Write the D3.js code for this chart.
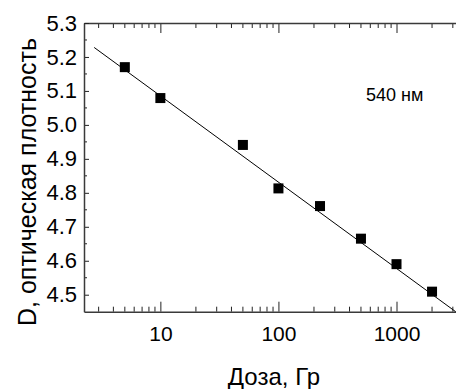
<!DOCTYPE html>
<html>
<head>
<meta charset="utf-8">
<script src="https://cdn.jsdelivr.net/npm/d3@7"></script>
<style>
  body { margin: 0; background: #fff; }
  text { font-family: "Liberation Sans", Arial, sans-serif; }
</style>
</head>
<body>
<svg width="456" height="389"></svg>
<script>
const svg = d3.select("svg");

// ====== Data ======
const dose = [5, 10, 50, 100, 225, 500, 1000, 2000];
const density = [5.170, 5.079, 4.941, 4.813, 4.761, 4.665, 4.590, 4.509];

// linear fit (in log dose), two ends of the line
const fitDose = [2.75, 3170];
const fitD = [5.228, 4.45];

const yTicks = [4.5, 4.6, 4.7, 4.8, 4.9, 5.0, 5.1, 5.2, 5.3];
const yMinor = [4.55, 4.65, 4.75, 4.85, 4.95, 5.05, 5.15, 5.25];
const xMajor = [10, 100, 1000];
const xMinor = [3, 4, 5, 6, 7, 8, 9, 20, 30, 40, 50, 60, 70, 80, 90,
                200, 300, 400, 500, 600, 700, 800, 900, 2000, 3000];

// ====== Scales ======
const plotL = 84, plotR = 460, plotT = 23, plotB = 311.7;

const x = d3.scaleLog().domain([2.255, 3450]).range([plotL, plotR]);
const y = d3.scaleLinear().domain([4.45, 5.3]).range([plotB, plotT]);

const axisColor = "#3a3a3a";

// ====== Axes ======
// bottom
const gBottom = svg.append("g").attr("transform", `translate(0,${plotB})`);
gBottom.call(d3.axisBottom(x).tickValues(xMajor).tickFormat(d3.format("d"))
    .tickSizeInner(-10).tickSizeOuter(0).tickPadding(14));
gBottom.selectAll(".minor").data(xMinor).enter().append("line")
    .attr("class", "minor")
    .attr("x1", d => x(d)).attr("x2", d => x(d))
    .attr("y1", 0).attr("y2", -5);

// top
const gTop = svg.append("g").attr("transform", `translate(0,${plotT})`);
gTop.call(d3.axisTop(x).tickValues(xMajor).tickFormat("")
    .tickSizeInner(-10).tickSizeOuter(0));
gTop.selectAll(".minor").data(xMinor).enter().append("line")
    .attr("class", "minor")
    .attr("x1", d => x(d)).attr("x2", d => x(d))
    .attr("y1", 0).attr("y2", 5);

// left
const gLeft = svg.append("g").attr("transform", `translate(${plotL},0)`);
gLeft.call(d3.axisLeft(y).tickValues(yTicks).tickFormat(d3.format(".1f"))
    .tickSizeInner(-5).tickSizeOuter(0).tickPadding(7));
gLeft.selectAll(".minor").data(yMinor).enter().append("line")
    .attr("class", "minor")
    .attr("x1", 0).attr("x2", 3)
    .attr("y1", d => y(d)).attr("y2", d => y(d));

svg.selectAll(".domain").attr("stroke", axisColor).attr("stroke-width", 1.5);
svg.selectAll(".tick line, .minor").attr("stroke", "#222").attr("stroke-width", 1);
svg.selectAll(".tick text").attr("fill", "#000");
gBottom.selectAll(".tick text").style("font-size", "21px");
gLeft.selectAll(".tick text").style("font-size", "22px");
svg.selectAll(".domain").raise();

// ====== Fit line ======
svg.append("line")
    .attr("x1", x(fitDose[0])).attr("y1", y(fitD[0]))
    .attr("x2", x(fitDose[1])).attr("y2", y(fitD[1]))
    .attr("stroke", "#000").attr("stroke-width", 1);

// ====== Points ======
const s = 10;
svg.append("g").selectAll("rect")
    .data(dose.map((d, i) => [d, density[i]]))
    .enter().append("rect")
        .attr("x", d => x(d[0]) - s / 2)
        .attr("y", d => y(d[1]) - s / 2)
        .attr("width", s).attr("height", s)
        .attr("fill", "#000");

// ====== Labels ======
svg.append("text")
    .attr("x", 366).attr("y", 101)
    .style("font-size", "18px")
    .text("540 нм");

svg.append("text")
    .attr("x", 274).attr("y", 385)
    .attr("text-anchor", "middle")
    .style("font-size", "24px")
    .text("Доза, Гр");

svg.append("text")
    .attr("transform", "translate(36,182) rotate(-90)")
    .attr("text-anchor", "middle")
    .style("font-size", "25px")
    .text("D, оптическая плотность");
</script>
</body>
</html>
